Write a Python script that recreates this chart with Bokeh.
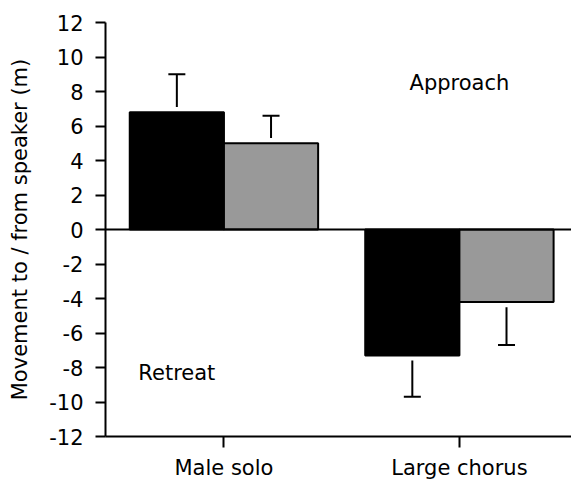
import numpy as np
from bokeh.plotting import figure
from bokeh.models import Range1d, FixedTicker, Span, Label, ColumnDataSource
from bokeh.embed import file_html
from bokeh.resources import INLINE

# ---- data ----
categories = ["Male solo", "Large chorus"]
mean_black = [6.8, -7.3]
tip_black = [9.0, -9.7]
mean_gray = [5.0, -4.2]
tip_gray = [6.6, -6.7]
y_ticks = list(range(-12, 13, 2))
y_tick_labels = [str(v) for v in y_ticks]

FONT = "DejaVu Sans"
FS = "21px"

xc = np.arange(1, len(categories) + 1)
bw = 0.4
gap = 0.3

p = figure(width=571, height=482, output_backend="svg", toolbar_location=None,
           x_range=Range1d(0.497, 2.476), y_range=Range1d(-12, 12),
           min_border_left=105, min_border_right=0, min_border_top=22,
           min_border_bottom=44)
p.outline_line_color = None
p.grid.visible = False
p.background_fill_color = "white"

def bars(offset, means, tips, color):
    xs = xc + offset
    m = np.array(means, dtype=float)
    t = np.array(tips, dtype=float)
    src = ColumnDataSource(dict(x=xs, top=m, tip=t, start=m + np.sign(t - m) * gap))
    p.vbar(x="x", width=bw, top="top", bottom=0, source=src,
           fill_color=color, line_color="black", line_width=2)
    p.segment(x0="x", y0="start", x1="x", y1="tip", source=src,
              line_color="black", line_width=2)
    p.dash(x="x", y="tip", size=17, source=src, line_color="black", line_width=2)

bars(-bw / 2, mean_black, tip_black, "black")
bars(bw / 2, mean_gray, tip_gray, "#999999")

p.add_layout(Span(location=0, dimension="width", line_color="black", line_width=2))

for ax in (p.xaxis[0], p.yaxis[0]):
    ax.axis_line_width = 2
    ax.major_tick_line_width = 2
    ax.major_tick_in = 0
    ax.minor_tick_line_color = None
    ax.major_label_text_font = FONT
    ax.major_label_text_font_size = FS
    ax.major_label_text_color = "black"
    ax.axis_line_color = "black"
    ax.major_tick_line_color = "black"

p.xaxis.ticker = FixedTicker(ticks=list(xc))
p.xaxis.major_label_overrides = {int(i): c for i, c in zip(xc, categories)}
p.xaxis.major_tick_out = 11
p.xaxis.major_label_standoff = 8

p.yaxis.ticker = FixedTicker(ticks=y_ticks)
p.yaxis.major_label_overrides = {v: s for v, s in zip(y_ticks, y_tick_labels)}
p.yaxis.major_tick_out = 10
p.yaxis.major_label_standoff = 12
p.yaxis.axis_label = "Movement to / from speaker (m)"
p.yaxis.axis_label_text_font = FONT
p.yaxis.axis_label_text_font_size = FS
p.yaxis.axis_label_text_font_style = "normal"
p.yaxis.axis_label_text_color = "black"
p.yaxis.axis_label_standoff = 14

p.add_layout(Label(x=2.0, y=8.5, text="Approach", text_align="center",
                   text_baseline="middle", text_font=FONT, text_font_size=FS,
                   text_color="black"))
p.add_layout(Label(x=0.8, y=-8.3, text="Retreat", text_align="center",
                   text_baseline="middle", text_font=FONT, text_font_size=FS,
                   text_color="black"))

open("out.html", "w").write(file_html(p, INLINE))
